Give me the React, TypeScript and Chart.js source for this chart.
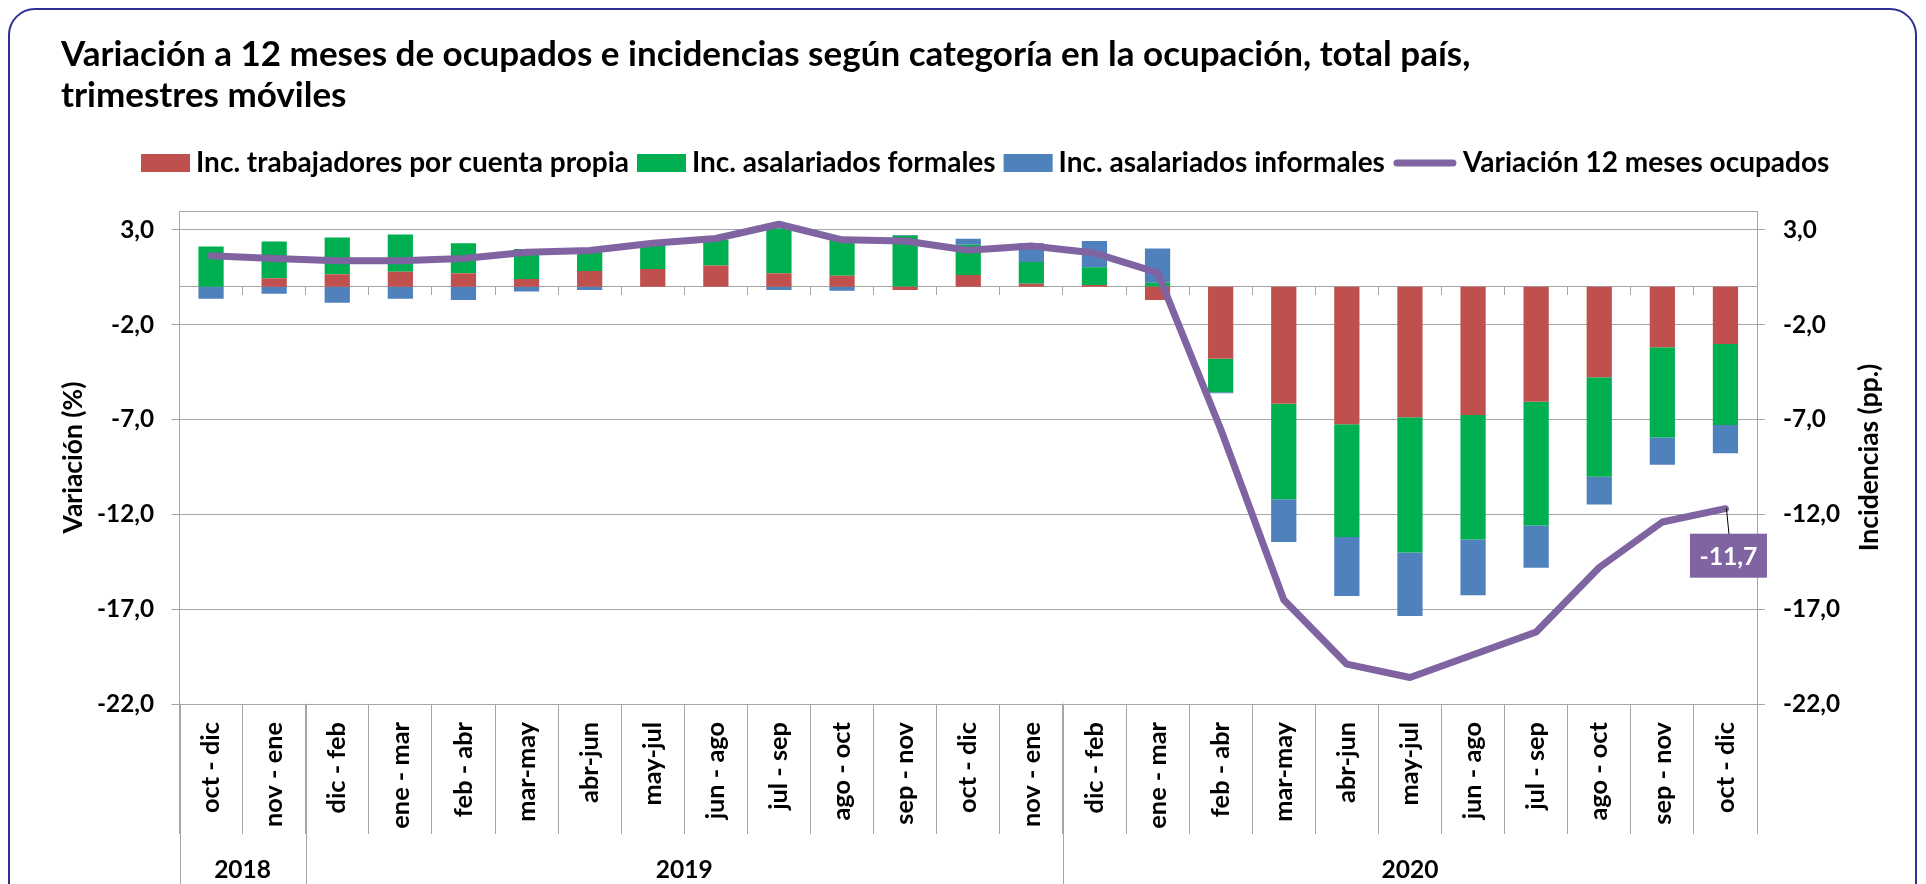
import React, { useEffect, useRef } from 'react';
import { Chart, registerables } from 'chart.js';

Chart.register(...registerables);

const W = 1926;
const H = 884;
const FONT = 'Lato';
const GRID = '#A6A6A6';
const FRAME = '#2E3192';

// ---------- data ----------
const periods = [
  'oct - dic', 'nov - ene', 'dic - feb', 'ene - mar', 'feb - abr', 'mar-may', 'abr-jun', 'may-jul',
  'jun - ago', 'jul - sep', 'ago - oct', 'sep - nov', 'oct - dic', 'nov - ene', 'dic - feb', 'ene - mar',
  'feb - abr', 'mar-may', 'abr-jun', 'may-jul', 'jun - ago', 'jul - sep', 'ago - oct', 'sep - nov', 'oct - dic',
];
const yearLabels = ['2018', '2019', '2020'];
const yearCounts = [2, 12, 11];

const cuentaPropia = [0, 0.45, 0.66, 0.80, 0.72, 0.42, 0.84, 0.94, 1.13, 0.72, 0.58, -0.16, 0.63, 0.16, 0.10, -0.70, -3.79, -6.16, -7.25, -6.88, -6.76, -6.06, -4.77, -3.19, -3.01];
const formales = [2.13, 1.94, 1.94, 1.96, 1.58, 1.57, 1.00, 1.36, 1.37, 2.37, 1.90, 2.69, 1.59, 1.15, 0.93, 0.21, -1.77, -5.04, -5.94, -7.13, -6.57, -6.53, -5.25, -4.75, -4.28];
const informales = [-0.63, -0.37, -0.84, -0.63, -0.70, -0.24, -0.17, 0, 0, -0.17, -0.21, 0.05, 0.31, 0.99, 1.39, 1.81, -0.05, -2.25, -3.11, -3.35, -2.94, -2.22, -1.46, -1.44, -1.48];
const variacion = [1.64, 1.50, 1.38, 1.38, 1.50, 1.82, 1.92, 2.30, 2.55, 3.30, 2.48, 2.42, 1.93, 2.15, 1.78, 0.75, -7.5, -16.5, -19.9, -20.6, -19.4, -18.2, -14.8, -12.4, -11.7];

const axisTicks = [-22, -17, -12, -7, -2, 3];
const axisMin = -22;
const axisMax = 4;

const seriesNames = [
  'Inc. trabajadores por cuenta propia',
  'Inc. asalariados formales',
  'Inc. asalariados informales',
  'Variación 12 meses ocupados',
];
const seriesColors = ['#C0504D', '#00B050', '#4F81BD', '#8064A2'];
const titleLines = [
  'Variación a 12 meses de ocupados e incidencias según categoría en la ocupación, total país,',
  'trimestres móviles',
];
const leftAxisTitle = 'Variación (%)';
const rightAxisTitle = 'Incidencias (pp.)';
const labelledIndex = 24;

const fmt = (v: number) => v.toFixed(1).replace('.', ',');

function fitSize(text: string, target: number): number {
  const c = document.createElement('canvas').getContext('2d')!;
  c.font = `bold 100px ${FONT}`;
  const w = c.measureText(text).width;
  return (100 * target) / w;
}

export default function App() {
  const ref = useRef<HTMLCanvasElement>(null);

  useEffect(() => {
    const canvas = ref.current!;
    const titleSize = fitSize(titleLines[0], 1410);
    const legendSize = fitSize(seriesNames[0], 433);
    const tickSize = fitSize('-12,0', 57);
    const axisTitleSize = fitSize(leftAxisTitle, 152);
    const catSize = fitSize('nov - ene', 105);
    const yearSize = fitSize('2018', 57);
    const dataLabelSize = fitSize('-11,7', 58);

    const tickFont = { family: FONT, weight: 'bold' as const, size: tickSize };
    const tickColor = (c: any) => (c.tick && c.tick.value === axisMax ? 'rgba(0,0,0,0)' : GRID);
    const buildTicks = (s: any) => {
      s.ticks = [...axisTicks, axisMax].map((v) => ({ value: v }));
    };

    const decor = {
      id: 'decor',
      afterDraw(chart: any) {
        const ctx: CanvasRenderingContext2D = chart.ctx;
        const area = chart.chartArea;
        const xs = chart.scales.x;
        ctx.save();

        // outer frame
        ctx.strokeStyle = FRAME;
        ctx.lineWidth = 2;
        ctx.beginPath();
        ctx.roundRect(9, 9, 1907, 905, 26);
        ctx.stroke();

        // title
        ctx.fillStyle = '#000';
        ctx.textAlign = 'left';
        ctx.textBaseline = 'middle';
        ctx.font = `bold ${titleSize}px ${FONT}`;
        ctx.fillText(titleLines[0], 61, 55);
        ctx.fillText(titleLines[1], 61, 96);

        // legend
        ctx.font = `bold ${legendSize}px ${FONT}`;
        let lx = 141;
        const ly = 163;
        seriesNames.forEach((name, i) => {
          if (i < 3) {
            ctx.fillStyle = seriesColors[i];
            ctx.fillRect(lx, ly - 9, 49, 18);
            lx += 55;
          } else {
            ctx.strokeStyle = seriesColors[i];
            ctx.lineWidth = 7;
            ctx.lineCap = 'round';
            ctx.beginPath();
            ctx.moveTo(lx + 4, ly);
            ctx.lineTo(lx + 60, ly);
            ctx.stroke();
            lx += 70;
          }
          ctx.fillStyle = '#000';
          ctx.fillText(name, lx, ly);
          lx += ctx.measureText(name).width + 8;
        });

        // right axis title
        ctx.save();
        ctx.font = `bold ${axisTitleSize}px ${FONT}`;
        ctx.translate(1869, (area.top + area.bottom) / 2);
        ctx.rotate(-Math.PI / 2);
        ctx.textAlign = 'center';
        ctx.textBaseline = 'middle';
        ctx.fillText(rightAxisTitle, 0, 0);
        ctx.restore();

        // year groups
        const boundary = (k: number) => {
          if (k <= 0) return area.left;
          if (k >= periods.length) return area.right;
          return (xs.getPixelForValue(k - 1) + xs.getPixelForValue(k)) / 2;
        };
        ctx.strokeStyle = GRID;
        ctx.lineWidth = 1;
        ctx.font = `bold ${yearSize}px ${FONT}`;
        ctx.textAlign = 'center';
        ctx.textBaseline = 'middle';
        let start = 0;
        yearLabels.forEach((lab, i) => {
          const x0 = boundary(start);
          const x1 = boundary(start + yearCounts[i]);
          if (i < yearLabels.length) {
            const bx = Math.round(x0) + 0.5;
            ctx.beginPath();
            ctx.moveTo(bx, area.bottom);
            ctx.lineTo(bx, H);
            ctx.stroke();
          }
          ctx.fillStyle = '#000';
          ctx.fillText(lab, (x0 + x1) / 2, 870);
          start += yearCounts[i];
        });

        // data label on last point
        const meta = chart.getDatasetMeta(3);
        const pt = meta.data[labelledIndex];
        if (pt) {
          const bx = pt.x - 35.5;
          const by = pt.y + 25;
          const bw = 77;
          const bh = 44;
          ctx.strokeStyle = '#000';
          ctx.lineWidth = 1;
          ctx.beginPath();
          ctx.moveTo(pt.x + 1, pt.y);
          ctx.lineTo(pt.x + 3.5, by);
          ctx.stroke();
          ctx.fillStyle = seriesColors[3];
          ctx.fillRect(bx, by, bw, bh);
          ctx.fillStyle = '#fff';
          ctx.font = `bold ${dataLabelSize}px ${FONT}`;
          ctx.textAlign = 'center';
          ctx.textBaseline = 'middle';
          ctx.fillText(fmt(variacion[labelledIndex]), bx + bw / 2, by + bh / 2 + 1);
        }
        ctx.restore();
      },
    };

    const chart = new Chart(canvas, {
      type: 'bar',
      data: {
        labels: periods,
        datasets: [
          { label: seriesNames[0], data: cuentaPropia, backgroundColor: seriesColors[0], yAxisID: 'y2', order: 1, barPercentage: 0.4, categoryPercentage: 1 },
          { label: seriesNames[1], data: formales, backgroundColor: seriesColors[1], yAxisID: 'y2', order: 1, barPercentage: 0.4, categoryPercentage: 1 },
          { label: seriesNames[2], data: informales, backgroundColor: seriesColors[2], yAxisID: 'y2', order: 1, barPercentage: 0.4, categoryPercentage: 1 },
          {
            type: 'line', label: seriesNames[3], data: variacion, yAxisID: 'y', order: 0,
            borderColor: seriesColors[3], backgroundColor: seriesColors[3], borderWidth: 7,
            pointRadius: 0, tension: 0, borderJoinStyle: 'round', borderCapStyle: 'round', fill: false,
          } as any,
        ],
      },
      options: {
        responsive: false,
        animation: false,
        events: [],
        layout: { padding: { top: 211, left: 0, right: 0, bottom: 0 } },
        plugins: { legend: { display: false }, title: { display: false }, tooltip: { enabled: false } },
        scales: {
          x: {
            type: 'category',
            position: 'bottom',
            stacked: true,
            offset: true,
            grid: { offset: true, drawOnChartArea: false, tickLength: 130, color: GRID, lineWidth: 1 },
            border: { display: true, color: GRID },
            ticks: {
              autoSkip: false, minRotation: 90, maxRotation: 90, padding: -112, color: '#000',
              font: { family: FONT, weight: 'bold', size: catSize },
            },
            afterFit: (s: any) => { s.height = 180; },
          },
          xZero: {
            type: 'category',
            position: { y: 0 } as any,
            offset: true,
            grid: { offset: true, drawOnChartArea: false, tickLength: 8, color: GRID, lineWidth: 1 },
            border: { display: true, color: GRID },
            ticks: { display: false },
          },
          y: {
            type: 'linear',
            position: 'left',
            min: axisMin,
            max: axisMax,
            afterBuildTicks: buildTicks,
            grid: { color: GRID, tickLength: 8, tickColor, lineWidth: 1 },
            border: { display: true, color: GRID },
            ticks: { padding: 17.5, color: '#000', font: tickFont, callback: (v: any) => (v === axisMax ? '' : fmt(Number(v))) },
            title: {
              display: true, text: leftAxisTitle, color: '#000',
              font: { family: FONT, weight: 'bold', size: axisTitleSize, lineHeight: 1.2 },
              padding: { top: 73 - 0.6 * axisTitleSize, bottom: 0 },
            },
            afterFit: (s: any) => { s.width = 179.5; },
          },
          y2: {
            type: 'linear',
            position: 'right',
            stacked: true,
            min: axisMin,
            max: axisMax,
            afterBuildTicks: buildTicks,
            grid: { drawOnChartArea: false, color: GRID, tickLength: 8, tickColor, lineWidth: 1 },
            border: { display: true, color: GRID },
            ticks: { padding: 18, color: '#000', font: tickFont, callback: (v: any) => (v === axisMax ? '' : fmt(Number(v))) },
            afterFit: (s: any) => { s.width = 169; },
          },
        },
      } as any,
      plugins: [decor],
    });

    return () => chart.destroy();
  }, []);

  return (
    <div style={{ position: 'fixed', left: 0, top: 0, width: W, height: H, background: '#fff' }}>
      <canvas ref={ref} width={W} height={H} style={{ width: W, height: H, display: 'block' }} />
    </div>
  );
}
